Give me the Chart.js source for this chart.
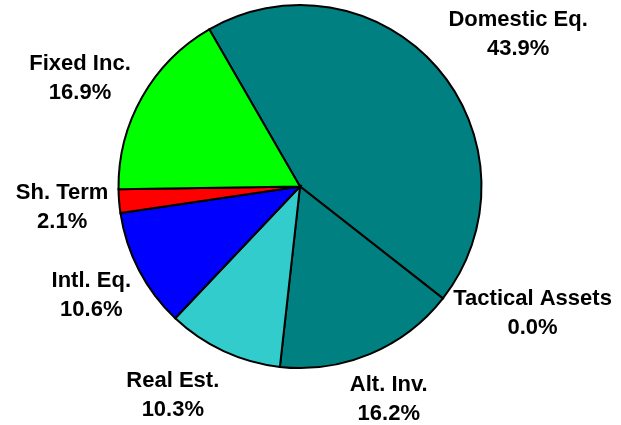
<!DOCTYPE html>
<html>
<head>
<meta charset="utf-8">
<script src="https://cdn.jsdelivr.net/npm/chart.js@4/dist/chart.umd.min.js"></script>
<style>
  html, body { margin: 0; padding: 0; background: #fff; }
  #wrap { width: 621px; height: 425px; }
</style>
</head>
<body>
<div id="wrap"><canvas id="pieChart" width="621" height="425"></canvas></div>
<script>
// chart data
const categories = ['Domestic Eq.', 'Tactical Assets', 'Alt. Inv.', 'Real Est.', 'Intl. Eq.', 'Sh. Term', 'Fixed Inc.'];
const shares     = [43.9, 0.0, 16.2, 10.3, 10.6, 2.1, 16.9];
const sliceColors = ['#008080', '#008080', '#008080', '#33CCCC', '#0000FF', '#FF0000', '#00FF00'];

// small hand tweaks so labels land where the original put them (px)
const labelNudgeX = [22, 21, 0, -29, 2, 0, -5];
const labelNudgeY = [18, -39, 2, -3, -1, 2, 14];

// labels sit just outside the pie, pushed out along each slice's middle
const outsideLabels = {
  id: 'outsideLabels',
  afterDatasetsDraw(chart) {
    const ctx = chart.ctx;
    const meta = chart.getDatasetMeta(0);
    const lineGap = 29;
    const blockH = 51;
    const pad = 9;
    ctx.save();
    ctx.font = 'bold 22px "Liberation Sans", Arial, sans-serif';
    ctx.fillStyle = '#000';
    ctx.textAlign = 'center';
    ctx.textBaseline = 'middle';
    meta.data.forEach((arc, i) => {
      const p = arc.getProps(['x', 'y', 'startAngle', 'endAngle', 'outerRadius'], true);
      const mid = (p.startAngle + p.endAngle) / 2;
      const dx = Math.cos(mid), dy = Math.sin(mid);
      const line1 = categories[i];
      const line2 = shares[i].toFixed(1) + '%';
      const w = Math.max(ctx.measureText(line1).width, ctx.measureText(line2).width);
      const dist = p.outerRadius + pad + Math.abs(dx) * w / 2 + Math.abs(dy) * blockH / 2;
      const cx = p.x + dx * dist + labelNudgeX[i];
      const cy = p.y + dy * dist + labelNudgeY[i];
      ctx.fillText(line1, cx, cy - lineGap / 2);
      ctx.fillText(line2, cx, cy + lineGap / 2);
    });
    ctx.restore();
  }
};

new Chart(document.getElementById('pieChart'), {
  type: 'pie',
  data: {
    labels: categories,
    datasets: [{
      data: shares,
      backgroundColor: sliceColors,
      borderColor: '#000',
      borderWidth: 2,
      borderJoinStyle: 'miter'
    }]
  },
  options: {
    responsive: false,
    animation: false,
    rotation: -30,
    layout: { padding: { top: 4, bottom: 56, left: 0, right: 21 } },
    plugins: {
      legend: { display: false },
      tooltip: { enabled: false }
    }
  },
  plugins: [outsideLabels]
});
</script>
</body>
</html>
